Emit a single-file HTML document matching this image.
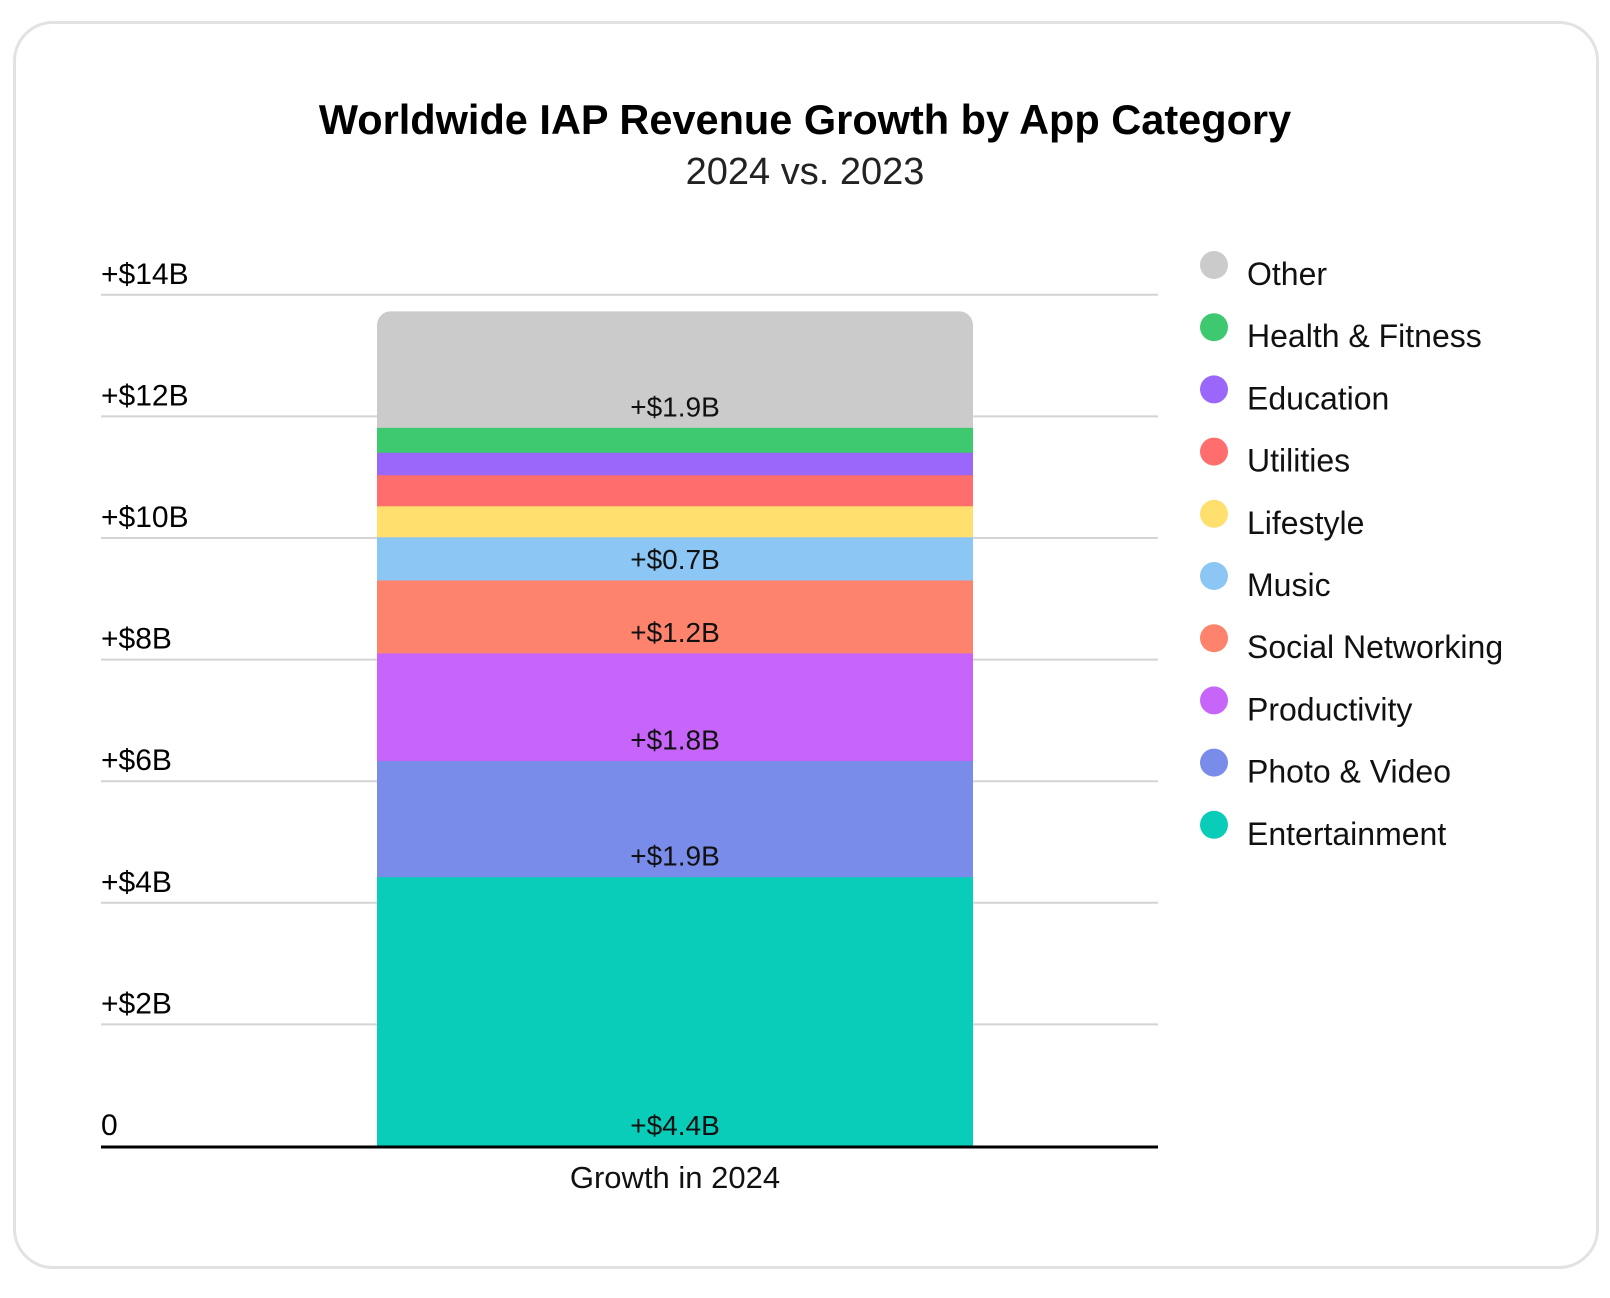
<!DOCTYPE html>
<html><head><meta charset="utf-8"><style>
html,body{margin:0;padding:0;background:#fff;}
body{width:1610px;height:1298px;position:relative;overflow:hidden;font-family:"Liberation Sans",sans-serif;}
#card{position:absolute;left:13px;top:21px;width:1580px;height:1242px;border:3px solid #e2e2e2;border-radius:40px;}
svg{position:absolute;left:0;top:0;}
</style></head><body>
<div id="card"></div>
<svg id="chart" width="1610" height="1298"></svg>
<script>
const categories=["Entertainment","Photo & Video","Productivity","Social Networking","Music","Lifestyle","Utilities","Education","Health & Fitness","Other"];
const values=[4.43,1.91,1.77,1.2,0.71,0.51,0.51,0.37,0.41,1.91];
const printedLabels=["+$4.4B","+$1.9B","+$1.8B","+$1.2B","+$0.7B","","","","","+$1.9B"];
const colors=["#0acdb9","#798ce9","#c765fb","#fe836c","#8bc6f4","#ffdf6e","#ff6d6d","#9b66fa","#3ec970","#cbcbcb"];
const tickValues=[0,2,4,6,8,10,12,14];
const tickLabels=["0","+$2B","+$4B","+$6B","+$8B","+$10B","+$12B","+$14B"];
const NS="http://www.w3.org/2000/svg";
const svg=document.getElementById('chart');
const y0=1146,pxPer=60.8;
function y(v){return y0-v*pxPer;}
function mk(t,a,p){const e=document.createElementNS(NS,t);for(const k in a)e.setAttribute(k,a[k]);(p||svg).appendChild(e);return e;}
let t=mk('text',{x:805,y:134,'text-anchor':'middle','font-size':41.5,'font-weight':'bold',fill:'#000'});


t.textContent='Worldwide IAP Revenue Growth by App Category';
t=mk('text',{x:805,y:184,'text-anchor':'middle','font-size':38,fill:'#222'});


t.textContent='2024 vs. 2023';
tickValues.forEach((v,i)=>{
 if(v>0){const l=mk('line',{x1:101,x2:1158,y1:y(v),y2:y(v),stroke:'#d4d4d4','stroke-width':2});
 
 }
 const tx=mk('text',{x:101,y:y(v)-11,'font-size':30,fill:'#000'});
 
 
 tx.textContent=tickLabels[i];
});
const total=values.reduce((a,b)=>a+b,0);
const g=mk('g',{});


mk('clipPath',{id:'cp'});
const cp=svg.querySelector('#cp');
mk('rect',{x:377,y:y(total),width:596,height:y0-y(total)+20,rx:14},cp);
g.setAttribute('clip-path','url(#cp)');
let cum=0;
values.forEach((v,i)=>{
 const r=mk('rect',{x:377,y:y(cum+v),width:596,height:v*pxPer+0.5,fill:colors[i]},g);
 
 
 cum+=v;
});
cum=0;
values.forEach((v,i)=>{
 if(printedLabels[i]){const tx=mk('text',{x:675,y:y(cum)-11,'text-anchor':'middle','font-size':28,fill:'#111'});
 
 
 tx.textContent=printedLabels[i];}
 cum+=v;
});
const ax=mk('line',{x1:101,x2:1158,y1:y0+1,y2:y0+1,stroke:'#000','stroke-width':3});


t=mk('text',{x:675,y:1188,'text-anchor':'middle','font-size':31,fill:'#111'});


t.textContent='Growth in 2024';
for(let i=0;i<categories.length;i++){
 const idx=categories.length-1-i;
 const ly=265+i*62.2;
 const c=mk('circle',{cx:1214,cy:ly,r:14,fill:colors[idx]});
 
 
 const tx=mk('text',{x:1247,y:ly+20,'font-size':32,fill:'#111'});
 
 
 tx.textContent=categories[idx];
}
</script>
</body></html>
